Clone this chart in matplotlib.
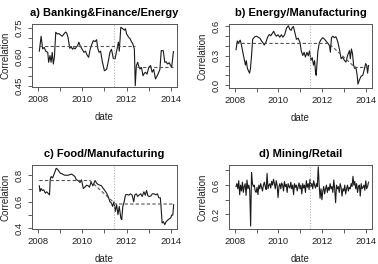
import numpy as np
import matplotlib
matplotlib.use("Agg")
import matplotlib.pyplot as plt

plt.rcParams['font.family'] = ['Liberation Sans', 'DejaVu Sans']

# ---------------- data ----------------
a_dates = [2008.07, 2008.15, 2008.22, 2008.29, 2008.36, 2008.45, 2008.49, 2008.55, 2008.60, 2008.65,
           2008.70, 2008.75, 2008.81, 2008.88, 2008.95, 2009.02, 2009.10, 2009.18, 2009.25, 2009.30,
           2009.36, 2009.44, 2009.50, 2009.56, 2009.62, 2009.68, 2009.74, 2009.80, 2009.85, 2009.92,
           2010.00, 2010.08, 2010.15, 2010.22, 2010.29, 2010.36, 2010.43, 2010.50, 2010.58, 2010.65,
           2010.70, 2010.76, 2010.83, 2010.90, 2011.00, 2011.10, 2011.18, 2011.25, 2011.32, 2011.40,
           2011.48, 2011.55, 2011.63, 2011.67, 2011.74, 2011.83, 2011.90, 2011.95, 2012.00, 2012.08,
           2012.16, 2012.22, 2012.28, 2012.35, 2012.39, 2012.44, 2012.50, 2012.55, 2012.60, 2012.67,
           2012.74, 2012.80, 2012.85, 2012.92, 2013.00, 2013.08, 2013.15, 2013.22, 2013.30, 2013.38,
           2013.45, 2013.50, 2013.56, 2013.65, 2013.72, 2013.78, 2013.85, 2013.92, 2013.98, 2014.03,
           2014.11]
a_values = [0.630, 0.708, 0.642, 0.650, 0.630, 0.624, 0.572, 0.607, 0.572, 0.624,
            0.563, 0.600, 0.729, 0.720, 0.722, 0.715, 0.708, 0.720, 0.730, 0.725,
            0.703, 0.645, 0.655, 0.640, 0.648, 0.642, 0.652, 0.660, 0.677, 0.655,
            0.640, 0.624, 0.630, 0.610, 0.598, 0.640, 0.665, 0.685, 0.680, 0.690,
            0.645, 0.624, 0.630, 0.580, 0.528, 0.535, 0.580, 0.624, 0.640, 0.593,
            0.590, 0.630, 0.677, 0.630, 0.755, 0.747, 0.740, 0.747, 0.720, 0.705,
            0.694, 0.680, 0.668, 0.642, 0.450, 0.554, 0.572, 0.550, 0.537, 0.545,
            0.502, 0.515, 0.520, 0.510, 0.546, 0.555, 0.520, 0.535, 0.485, 0.502,
            0.520, 0.535, 0.633, 0.633, 0.572, 0.575, 0.563, 0.570, 0.555, 0.546,
            0.628]
a_ref_x = [2008.07, 2012.36, np.nan, 2012.45, 2014.11]
a_ref_y = [0.655, 0.655, np.nan, 0.546, 0.546]

b_dates = [2008.06, 2008.12, 2008.18, 2008.25, 2008.30, 2008.36, 2008.43, 2008.49, 2008.53, 2008.58,
           2008.64, 2008.68, 2008.72, 2008.77, 2008.82, 2008.92, 2009.00, 2009.07, 2009.15, 2009.23,
           2009.30, 2009.35, 2009.43, 2009.50, 2009.58, 2009.65, 2009.73, 2009.78, 2009.84, 2009.90,
           2009.98, 2010.06, 2010.13, 2010.20, 2010.28, 2010.37, 2010.45, 2010.52, 2010.58, 2010.62,
           2010.68, 2010.75, 2010.82, 2010.90, 2010.98, 2011.04, 2011.11, 2011.17, 2011.23, 2011.30,
           2011.36, 2011.42, 2011.48, 2011.54, 2011.60, 2011.65, 2011.69, 2011.72, 2011.80, 2011.87,
           2011.95, 2012.02, 2012.10, 2012.17, 2012.25, 2012.33, 2012.37, 2012.42, 2012.48, 2012.55,
           2012.62, 2012.70, 2012.78, 2012.86, 2012.93, 2013.01, 2013.08, 2013.15, 2013.24, 2013.28,
           2013.33, 2013.38, 2013.43, 2013.48, 2013.53, 2013.59, 2013.63, 2013.69, 2013.77, 2013.85,
           2013.93, 2013.98, 2014.03, 2014.07, 2014.11]
b_values = [0.362, 0.451, 0.430, 0.460, 0.420, 0.350, 0.270, 0.204, 0.250, 0.171,
            0.140, 0.122, 0.170, 0.303, 0.468, 0.495, 0.500, 0.490, 0.480, 0.450,
            0.430, 0.410, 0.440, 0.490, 0.518, 0.505, 0.534, 0.550, 0.520, 0.500,
            0.515, 0.490, 0.515, 0.490, 0.515, 0.584, 0.607, 0.570, 0.560, 0.585,
            0.600, 0.535, 0.468, 0.480, 0.436, 0.350, 0.303, 0.335, 0.287, 0.335,
            0.300, 0.350, 0.253, 0.280, 0.204, 0.250, 0.138, 0.100, 0.350, 0.436,
            0.468, 0.485, 0.470, 0.450, 0.430, 0.402, 0.336, 0.485, 0.500, 0.485,
            0.495, 0.450, 0.369, 0.270, 0.285, 0.253, 0.235, 0.300, 0.352, 0.270,
            0.370, 0.320, 0.204, 0.170, 0.185, 0.105, 0.010, 0.050, 0.090, 0.100,
            0.171, 0.220, 0.200, 0.122, 0.200]
b_ref_x = [2008.06, 2012.30, 2013.50, 2014.11]
b_ref_y = [0.426, 0.426, 0.180, 0.180]

c_dates = [2008.07, 2008.10, 2008.15, 2008.20, 2008.27, 2008.34, 2008.40, 2008.46, 2008.53, 2008.56,
           2008.60, 2008.67, 2008.75, 2008.83, 2008.89, 2008.95, 2009.02, 2009.10, 2009.21, 2009.30,
           2009.38, 2009.45, 2009.52, 2009.60, 2009.67, 2009.74, 2009.82, 2009.90, 2009.97, 2010.05,
           2010.12, 2010.20, 2010.27, 2010.33, 2010.40, 2010.48, 2010.58, 2010.65, 2010.72, 2010.80,
           2010.87, 2010.95, 2011.02, 2011.10, 2011.17, 2011.25, 2011.32, 2011.37, 2011.43, 2011.49,
           2011.55, 2011.61, 2011.67, 2011.74, 2011.78, 2011.83, 2011.89, 2011.95, 2012.02, 2012.10,
           2012.17, 2012.25, 2012.32, 2012.37, 2012.44, 2012.50, 2012.57, 2012.64, 2012.70, 2012.78,
           2012.84, 2012.90, 2012.96, 2013.03, 2013.10, 2013.16, 2013.24, 2013.32, 2013.39, 2013.45,
           2013.52, 2013.56, 2013.60, 2013.66, 2013.72, 2013.78, 2013.84, 2013.91, 2013.99, 2014.03,
           2014.08, 2014.12]
c_values = [0.720, 0.677, 0.700, 0.685, 0.690, 0.665, 0.675, 0.665, 0.652, 0.765,
            0.790, 0.780, 0.815, 0.852, 0.845, 0.830, 0.815, 0.810, 0.800, 0.800,
            0.800, 0.805, 0.808, 0.800, 0.790, 0.765, 0.760, 0.745, 0.765, 0.700,
            0.710, 0.725, 0.720, 0.710, 0.750, 0.720, 0.760, 0.740, 0.730, 0.725,
            0.720, 0.700, 0.685, 0.665, 0.640, 0.600, 0.590, 0.565, 0.600, 0.527,
            0.580, 0.503, 0.565, 0.478, 0.465, 0.565, 0.600, 0.652, 0.655, 0.650,
            0.660, 0.650, 0.600, 0.652, 0.660, 0.640, 0.652, 0.660, 0.640, 0.675,
            0.650, 0.685, 0.645, 0.640, 0.645, 0.660, 0.660, 0.652, 0.660, 0.630,
            0.630, 0.540, 0.440, 0.450, 0.428, 0.450, 0.460, 0.470, 0.480, 0.500,
            0.500, 0.578]
c_ref_x = [2008.07, 2010.35, 2011.50, 2014.12]
c_ref_y = [0.760, 0.760, 0.583, 0.583]

d_start, d_end = 2008.06, 2014.11
d_values = [0.58, 0.62, 0.55, 0.66, 0.47, 0.60, 0.52, 0.64, 0.50, 0.58,
            0.62, 0.46, 0.67, 0.55, 0.60, 0.53, 0.04, 0.77, 0.62, 0.58,
            0.60, 0.52, 0.50, 0.57, 0.47, 0.60, 0.55, 0.62, 0.57, 0.52,
            0.60, 0.64, 0.58, 0.54, 0.76, 0.55, 0.60, 0.62, 0.56, 0.65,
            0.60, 0.68, 0.62, 0.55, 0.66, 0.60, 0.43, 0.58, 0.62, 0.55,
            0.63, 0.60, 0.52, 0.65, 0.58, 0.61, 0.50, 0.62, 0.58, 0.56,
            0.64, 0.55, 0.60, 0.47, 0.62, 0.57, 0.60, 0.52, 0.58, 0.63,
            0.55, 0.60, 0.48, 0.62, 0.56, 0.60, 0.50, 0.66, 0.57, 0.62,
            0.54, 0.68, 0.58, 0.62, 0.55, 0.66, 0.60, 0.56, 0.62, 0.58,
            0.85, 0.60, 0.42, 0.55, 0.40, 0.52, 0.58, 0.48, 0.55, 0.60,
            0.50, 0.57, 0.53, 0.62, 0.55, 0.58, 0.50, 0.67, 0.55, 0.36,
            0.60, 0.55, 0.58, 0.50, 0.62, 0.57, 0.45, 0.55, 0.52, 0.60,
            0.48, 0.55, 0.60, 0.52, 0.57, 0.55, 0.62, 0.58, 0.72, 0.60,
            0.65, 0.55, 0.62, 0.50, 0.58, 0.60, 0.45, 0.62, 0.55, 0.57,
            0.60, 0.53, 0.66, 0.55, 0.58, 0.64]
d_dates = np.linspace(d_start, d_end, len(d_values))

break_date = 2011.45

panels = [
    dict(title="a) Banking&Finance/Energy", x=a_dates, y=a_values, rx=a_ref_x, ry=a_ref_y,
         ylim=(0.443, 0.772), ticks=[0.45, 0.50, 0.55, 0.60, 0.65, 0.70, 0.75],
         labels=["0.45", "", "", "0.60", "", "", "0.75"],
         pos=(32, 24, 177, 87)),
    dict(title="b) Energy/Manufacturing", x=b_dates, y=b_values, rx=b_ref_x, ry=b_ref_y,
         ylim=(-0.03, 0.625), ticks=[0.0, 0.1, 0.2, 0.3, 0.4, 0.5, 0.6],
         labels=["0.0", "", "", "0.3", "", "", "0.6"],
         pos=(229, 24, 372, 88)),
    dict(title="c) Food/Manufacturing", x=c_dates, y=c_values, rx=c_ref_x, ry=c_ref_y,
         ylim=(0.395, 0.877), ticks=[0.4, 0.5, 0.6, 0.7, 0.8],
         labels=["0.4", "", "0.6", "", "0.8"],
         pos=(32, 165, 177, 229)),
    dict(title="d) Mining/Retail", x=d_dates, y=d_values, rx=None, ry=None,
         ylim=(0.0, 0.875), ticks=[0.2, 0.4, 0.6, 0.8],
         labels=["0.2", "", "0.6", ""],
         pos=(229, 165, 372, 229)),
]

W, H = 378, 264
fig = plt.figure(figsize=(W / 100, H / 100), dpi=100)
fig.patch.set_facecolor("white")

for p in panels:
    x0, y0, x1, y1 = p["pos"]
    ax = fig.add_axes([x0 / W, 1 - y1 / H, (x1 - x0) / W, (y1 - y0) / H])
    ax.plot(p["x"], p["y"], color="#1a1a1a", lw=0.8)
    if p["rx"] is not None:
        ax.plot(p["rx"], p["ry"], color="#555555", lw=0.8, ls=(0, (3, 2)))
    ax.axvline(break_date, color="#b0b0b0", lw=0.8, ls=(0, (1, 1.5)))
    ax.set_xlim(2007.74, 2014.27)
    ax.set_ylim(*p["ylim"])
    ax.set_xticks([2008, 2009, 2010, 2011, 2012, 2013, 2014])
    ax.set_xticklabels(["2008", "", "2010", "", "2012", "", "2014"])
    ax.set_yticks(p["ticks"])
    ax.set_yticklabels(p["labels"], rotation=90, va="center")
    ax.tick_params(direction="out", length=3.2, width=0.6, color="#444444",
                   labelsize=6.8, pad=2.5, labelcolor="#222222")
    for s in ax.spines.values():
        s.set_linewidth(0.7)
        s.set_color("#555555")
    ax.set_xlabel("date", fontsize=7.0, labelpad=6, color="#222222")
    ax.set_ylabel("Correlation", fontsize=7.0, labelpad=3, color="#222222")
    ax.set_title(p["title"], fontsize=8.0, fontweight="bold", pad=6)

fig.savefig("out.png", dpi=100)
